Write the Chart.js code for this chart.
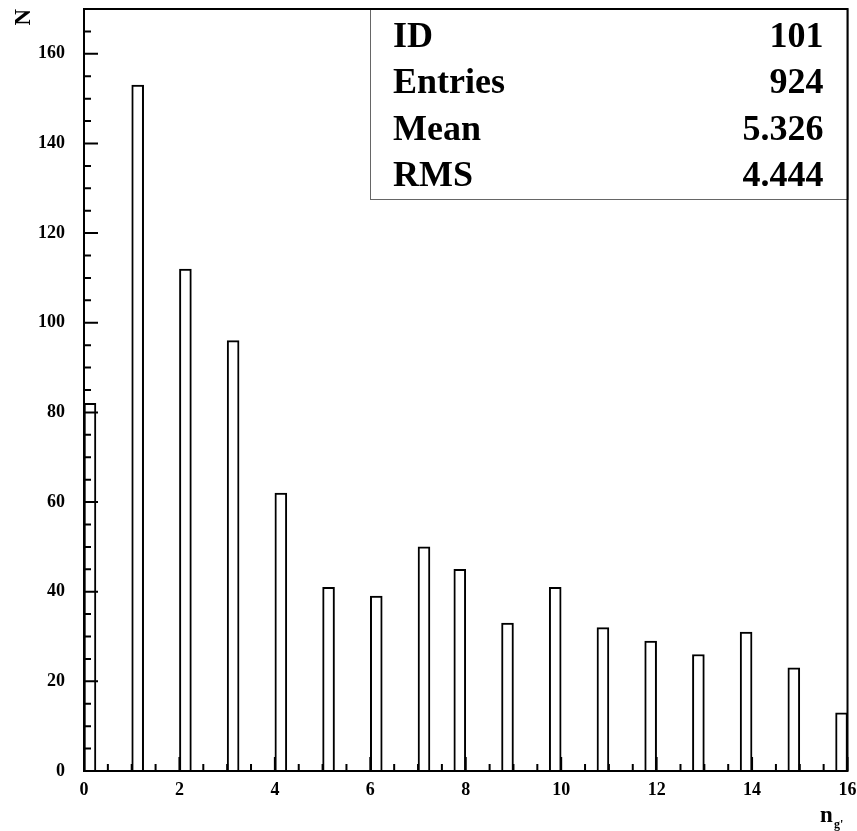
<!DOCTYPE html>
<html>
<head>
<meta charset="utf-8">
<script src="https://cdn.jsdelivr.net/npm/chart.js@4.4.1/dist/chart.umd.min.js"></script>
<style>
  body { margin: 0; background: #fff; }
  canvas { display: block; }
</style>
</head>
<body>
<canvas id="myChart" width="857" height="831"></canvas>
<script>
// filled bins of the histogram (low edge of each bin), bins are 0.25 wide
const binLowEdges = [0, 1, 2, 3, 4, 5, 6, 7, 7.75, 8.75, 9.75, 10.75, 11.75, 12.75, 13.75, 14.75, 15.75];
const binCounts = [82, 153, 112, 96, 62, 41, 39, 50, 45, 33, 41, 32, 29, 26, 31, 23, 13];
const binWidth = 0.25;

const xRange = [0, 16];
const yRange = [0, 170];
const xTicks = [0, 2, 4, 6, 8, 10, 12, 14, 16];
const yTicks = [0, 20, 40, 60, 80, 100, 120, 140, 160];
const xMinorStep = 0.5;
const yMinorStep = 5;

const statLabels = ["ID", "Entries", "Mean", "RMS"];
const statValues = ["101", "924", "5.326", "4.444"];

const serif = "'Liberation Serif', 'Times New Roman', serif";

// every bin from 0 to 16, empty ones get 0
let histData = [];
const nBins = Math.round((xRange[1] - xRange[0]) / binWidth);
for (let i = 0; i < nBins; i++) {
  let low = xRange[0] + i * binWidth;
  let k = binLowEdges.findIndex(e => Math.abs(e - low) < 1e-6);
  histData.push({ x: low + binWidth / 2, y: k >= 0 ? binCounts[k] : 0 });
}

const frameAndTicks = {
  id: 'frameAndTicks',
  afterDraw(chart) {
    const ctx = chart.ctx;
    const { left, right, top, bottom } = chart.chartArea;
    const xs = chart.scales.x;
    const ys = chart.scales.y;
    ctx.save();

    // stats box
    const boxLeft = 370, boxBottom = 199;
    ctx.fillStyle = '#fff';
    ctx.fillRect(boxLeft, top, right - boxLeft, boxBottom - top);
    ctx.strokeStyle = '#666';
    ctx.lineWidth = 1;
    ctx.strokeRect(boxLeft + 0.5, top, right - boxLeft, boxBottom - top + 0.5);
    ctx.fillStyle = '#000';
    ctx.font = "bold 36px " + serif;
    ctx.textBaseline = 'alphabetic';
    for (let i = 0; i < statLabels.length; i++) {
      let yy = top + 38 + i * 46.3;
      ctx.textAlign = 'left';
      ctx.fillText(statLabels[i], boxLeft + 23, yy);
      ctx.textAlign = 'right';
      ctx.fillText(statValues[i], right - 24, yy);
    }

    // frame
    ctx.strokeStyle = '#000';
    ctx.lineWidth = 2;
    ctx.strokeRect(left, top, right - left, bottom - top);

    // ticks pointing inwards
    ctx.beginPath();
    for (let v = xRange[0]; v <= xRange[1] + 1e-9; v += xMinorStep) {
      let px = xs.getPixelForValue(v);
      let len = xTicks.some(t => Math.abs(t - v) < 1e-9) ? 14 : 7;
      ctx.moveTo(px, bottom);
      ctx.lineTo(px, bottom - len);
    }
    for (let v = yRange[0]; v <= yRange[1] + 1e-9; v += yMinorStep) {
      let py = ys.getPixelForValue(v);
      let len = yTicks.some(t => Math.abs(t - v) < 1e-9) ? 14 : 7;
      ctx.moveTo(left, py);
      ctx.lineTo(left + len, py);
    }
    ctx.stroke();

    // x axis title n_g'
    ctx.fillStyle = '#000';
    ctx.textAlign = 'left';
    ctx.font = "bold 23px " + serif;
    ctx.fillText("n", 820, 822);
    ctx.font = "bold 12px " + serif;
    ctx.fillText("g'", 834, 828);
    ctx.restore();
  }
};

new Chart("myChart", {
  type: "bar",
  data: {
    datasets: [{
      data: histData,
      backgroundColor: "#ffffff",
      borderColor: "#000000",
      borderWidth: 2,
      barPercentage: 1,
      categoryPercentage: 1
    }]
  },
  plugins: [frameAndTicks],
  options: {
    responsive: false,
    animation: false,
    layout: { padding: { top: 9, right: 9.5, bottom: 0, left: 0 } },
    plugins: {
      legend: { display: false },
      tooltip: { enabled: false }
    },
    scales: {
      x: {
        type: 'linear',
        min: xRange[0],
        max: xRange[1],
        offset: false,
        grid: { display: false, drawTicks: true, tickLength: 10 },
        border: { display: false },
        ticks: {
          color: '#000',
          font: { family: serif, size: 18, weight: 'bold', lineHeight: 1 },
          padding: 0,
          maxRotation: 0,
          autoSkip: false
        },
        afterBuildTicks: axis => { axis.ticks = xTicks.map(v => ({ value: v })); },
        afterFit: axis => { axis.height = 60; }
      },
      y: {
        min: yRange[0],
        max: yRange[1],
        grid: { display: false, drawTicks: true, tickLength: 19 },
        border: { display: false },
        ticks: {
          color: '#000',
          font: { family: serif, size: 18, weight: 'bold', lineHeight: 1 },
          padding: 0
        },
        title: {
          display: true,
          text: 'N',
          align: 'end',
          color: '#000',
          font: { family: serif, size: 23, weight: 'bold' },
          padding: { top: 10, bottom: 0 }
        },
        afterBuildTicks: axis => { axis.ticks = yTicks.map(v => ({ value: v })); },
        afterFit: axis => { axis.width = 84; }
      }
    }
  }
});
</script>
</body>
</html>
